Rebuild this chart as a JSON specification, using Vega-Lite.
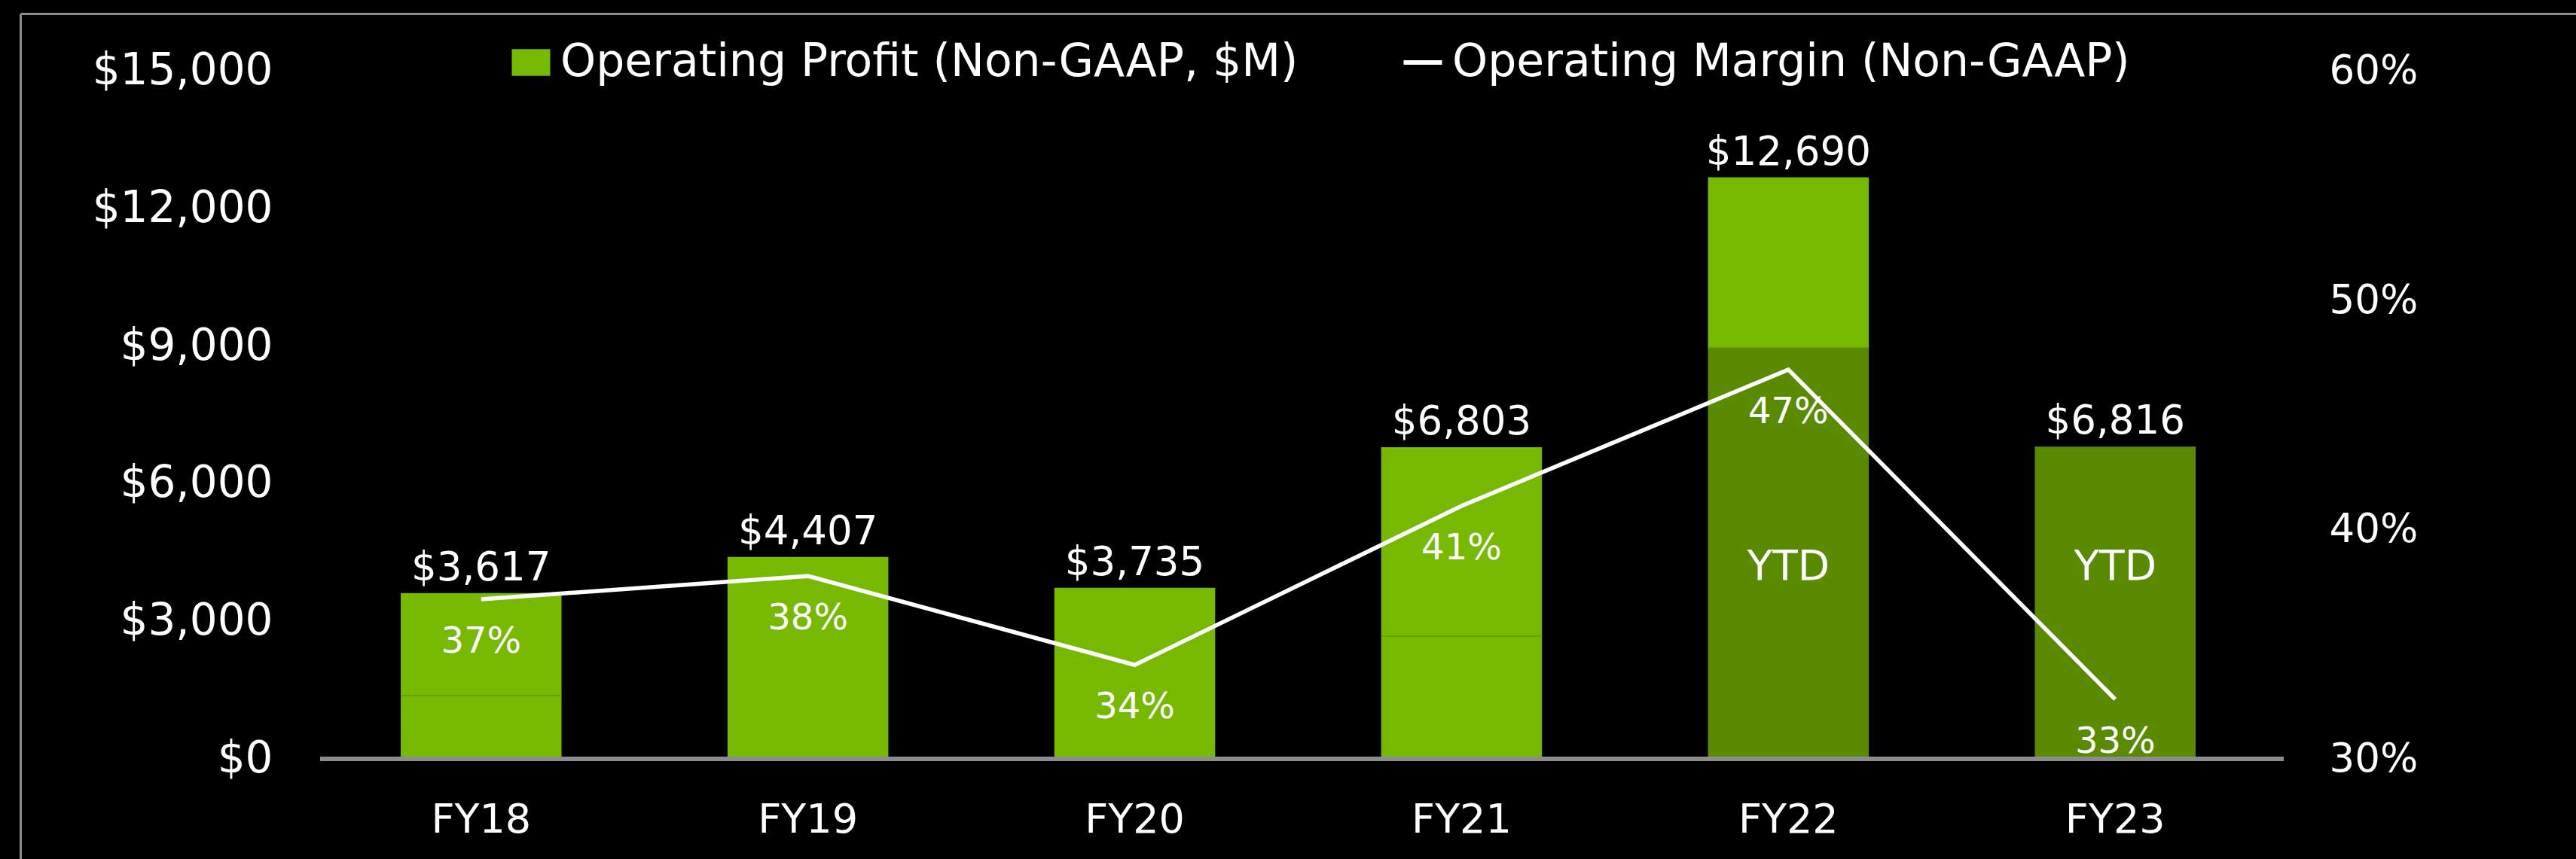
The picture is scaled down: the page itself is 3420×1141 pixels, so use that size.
{
  "$schema": "https://vega.github.io/schema/vega-lite/v6.json",
  "width": 3393,
  "height": 1123,
  "autosize": "none",
  "padding": {"left": 27, "top": 18, "right": 0, "bottom": 0},
  "background": "#000000",
  "config": {
    "view": {"stroke": null},
    "font": "DejaVu Sans",
    "axis": {"labelFont": "DejaVu Sans", "grid": false, "labelLimit": 1000},
    "legend": {"labelFont": "DejaVu Sans"}
  },
  "datasets": {
    "segments": [
      {"fy": "FY18", "start": 0, "end": 1380, "shade": "Operating Profit (Non-GAAP, $M)"},
      {"fy": "FY18", "start": 1380, "end": 3617, "shade": "Operating Profit (Non-GAAP, $M)"},
      {"fy": "FY19", "start": 0, "end": 4407, "shade": "Operating Profit (Non-GAAP, $M)"},
      {"fy": "FY20", "start": 0, "end": 3735, "shade": "Operating Profit (Non-GAAP, $M)"},
      {"fy": "FY21", "start": 0, "end": 2678, "shade": "Operating Profit (Non-GAAP, $M)"},
      {"fy": "FY21", "start": 2678, "end": 6803, "shade": "Operating Profit (Non-GAAP, $M)"},
      {"fy": "FY22", "start": 0, "end": 8970, "shade": "YTD"},
      {"fy": "FY22", "start": 8970, "end": 12690, "shade": "Operating Profit (Non-GAAP, $M)"},
      {"fy": "FY23", "start": 0, "end": 6816, "shade": "YTD"}
    ],
    "years": [
      {"fy": "FY18", "profit": 3617, "margin": 0.3697, "note": ""},
      {"fy": "FY19", "profit": 4407, "margin": 0.3798, "note": ""},
      {"fy": "FY20", "profit": 3735, "margin": 0.341, "note": ""},
      {"fy": "FY21", "profit": 6803, "margin": 0.4104, "note": ""},
      {"fy": "FY22", "profit": 12690, "margin": 0.4699, "note": "YTD"},
      {"fy": "FY23", "profit": 6816, "margin": 0.326, "note": "YTD"}
    ]
  },
  "resolve": {"scale": {"y": "independent"}},
  "layer": [
    {
      "layer": [
        {
          "data": {"name": "segments"},
          "mark": {"type": "bar", "width": {"band": 0.6}},
          "encoding": {
            "x": {
              "field": "fy", "type": "nominal",
              "scale": {"paddingInner": 0.18, "paddingOuter": 1},
              "axis": {
                "orient": "top", "title": null, "domain": true, "domainColor": "#8c8c8c", "domainWidth": 3,
                "ticks": false, "tickSize": 0, "labelPadding": -1087, "labelBaseline": "alphabetic",
                "labelAngle": 0, "labelColor": "#ffffff", "labelFontSize": 54, "grid": false
              }
            },
            "y": {
              "field": "end", "type": "quantitative",
              "scale": {"domain": [-2185, 16265], "nice": false, "zero": false},
              "axis": {
                "orient": "left", "title": null, "values": [0, 3000, 6000, 9000, 12000, 15000], "format": "$,.0f",
                "domain": true, "domainColor": "#8c8c8c", "domainWidth": 3, "ticks": false, "tickSize": 0,
                "labelPadding": -335, "labelAlign": "right", "labelBaseline": "middle", "labelLimit": 1000,
                "labelColor": "#ffffff", "labelFontSize": 58, "grid": false
              }
            },
            "y2": {"field": "start"},
            "color": {
              "field": "shade", "type": "nominal",
              "scale": {
                "domain": ["Operating Profit (Non-GAAP, $M)", "Operating Margin (Non-GAAP)", "YTD"],
                "range": ["#76b900", "#ffffff", "#5a8a00"]
              },
              "legend": {
                "values": ["Operating Profit (Non-GAAP, $M)", "Operating Margin (Non-GAAP)"],
                "orient": "none", "legendX": 648, "legendY": 35, "direction": "horizontal",
                "title": null, "padding": 0, "labelFontSize": 60, "labelColor": "#ffffff",
                "labelLimit": 3000, "labelOffset": 9, "columnPadding": 135, "symbolSize": 2601,
                "encode": {
                  "symbols": {
                    "update": {
                      "shape": {"signal": "datum.value === 'Operating Margin (Non-GAAP)' ? 'M-1,-0.12L1,-0.12L1,0.12L-1,0.12Z' : 'M-1,-0.7L1,-0.7L1,0.7L-1,0.7Z'"},
                      "fill": {"signal": "datum.value === 'Operating Margin (Non-GAAP)' ? '#ffffff' : '#76b900'"},
                      "stroke": {"value": "transparent"},
                      "strokeWidth": {"value": 0},
                      "opacity": {"value": 1}
                    }
                  }
                }
              }
            }
          }
        },
        {
          "data": {"name": "segments"},
          "transform": [{"filter": "datum.start > 0"}],
          "mark": {"type": "tick", "color": "#5f9400", "thickness": 2, "size": 214, "orient": "horizontal"},
          "encoding": {
            "x": {"field": "fy", "type": "nominal"},
            "y": {"field": "start", "type": "quantitative"}
          }
        },
        {
          "data": {"values": [{}]},
          "mark": {"type": "rule", "color": "#8c8c8c", "strokeWidth": 6},
          "encoding": {
            "x": {"datum": "FY18", "type": "nominal", "bandPosition": -0.101},
            "x2": {"datum": "FY23", "bandPosition": 1.129},
            "y": {"datum": 0, "type": "quantitative"}
          }
        },
        {
          "data": {"name": "years"},
          "mark": {"type": "text", "color": "#ffffff", "fontSize": 53, "font": "DejaVu Sans", "baseline": "alphabetic", "dy": -17},
          "encoding": {
            "x": {"field": "fy", "type": "nominal"},
            "y": {"field": "profit", "type": "quantitative"},
            "text": {"field": "profit", "type": "quantitative", "format": "$,.0f"}
          }
        },
        {
          "data": {"name": "years"},
          "transform": [{"filter": "datum.note === 'YTD'"}],
          "mark": {"type": "text", "color": "#ffffff", "fontSize": 55, "font": "DejaVu Sans", "baseline": "middle"},
          "encoding": {
            "x": {"field": "fy", "type": "nominal"},
            "y": {"datum": 4190, "type": "quantitative"},
            "text": {"field": "note", "type": "nominal"}
          }
        }
      ]
    },
    {
      "layer": [
        {
          "data": {"name": "years"},
          "mark": {"type": "line", "strokeWidth": 5.5},
          "encoding": {
            "x": {"field": "fy", "type": "nominal"},
            "y": {
              "field": "margin", "type": "quantitative",
              "scale": {"domain": [0.2563, 0.6253], "nice": false, "zero": false},
              "axis": {
                "orient": "right", "title": null, "values": [0.3, 0.4, 0.5, 0.6], "format": ".0%",
                "domain": false, "ticks": false, "tickSize": 0, "labelPadding": -328, "labelAlign": "left",
                "labelBaseline": "middle", "labelColor": "#ffffff", "labelFontSize": 53, "grid": false
              }
            },
            "color": {"datum": "Operating Margin (Non-GAAP)", "type": "nominal"}
          }
        },
        {
          "data": {"name": "years"},
          "mark": {"type": "text", "color": "#ffffff", "fontSize": 48, "font": "DejaVu Sans", "baseline": "middle", "dy": 57},
          "encoding": {
            "x": {"field": "fy", "type": "nominal"},
            "y": {"field": "margin", "type": "quantitative"},
            "text": {"field": "margin", "type": "quantitative", "format": ".0%"}
          }
        }
      ]
    }
  ]
}
